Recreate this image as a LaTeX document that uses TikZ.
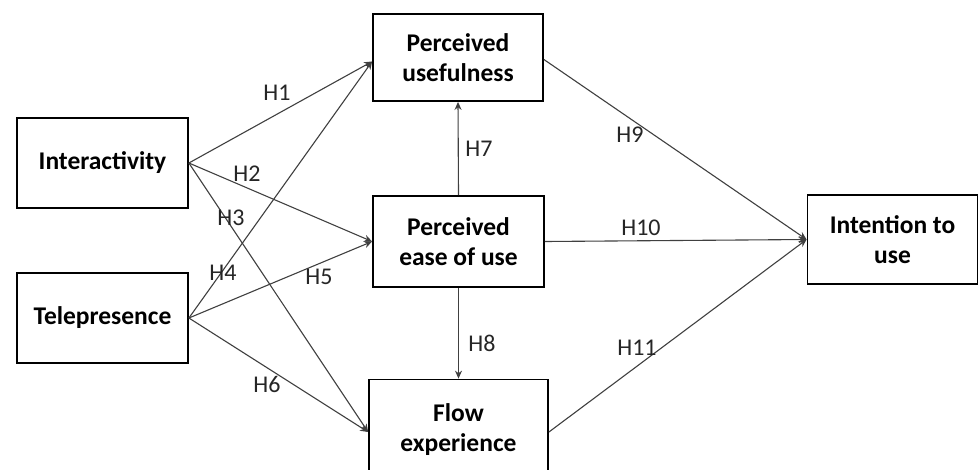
\documentclass[tikz,border=0pt]{standalone}
\usepackage{fontspec}
\setmainfont{Carlito}
\usetikzlibrary{arrows.meta}
\begin{document}
\begin{tikzpicture}[x=1pt,y=-1pt,
  box/.style={draw=black,line width=1.8pt,fill=white,align=center,inner sep=2pt,
    font=\fontsize{25.5}{30}\selectfont\bfseries},
  conn/.style={draw=black!75,line width=1.1pt,-{Stealth[length=8pt,width=7pt]}},
  hlab/.style={font=\fontsize{24}{28}\selectfont,text=black!85,inner sep=0pt}]
\useasboundingbox (0,0) rectangle (979,469);
\fill[white] (0,0) rectangle (979,469);
\node[box,minimum width=171pt,minimum height=90pt] (int) at (102.5,163) {Interactivity};
\node[box,minimum width=171pt,minimum height=90pt] (tel) at (102.5,318) {Telepresence};
\node[box,minimum width=170pt,minimum height=87pt] (pu) at (458,57.5) {Perceived\\usefulness};
\node[box,minimum width=171pt,minimum height=91pt] (peou) at (458.5,241.5) {Perceived\\ease of use};
\node[box,minimum width=179pt,minimum height=95pt] (flow) at (458.5,427) {\rule{0pt}{0pt}\\[-8pt]Flow\\experience};
\node[box,minimum width=170pt,minimum height=89pt] (iu) at (892.5,239.5) {Intention to\\use};

\draw[conn] (int.east) -- ([yshift=-4pt]pu.west);
\draw[conn] (int.east) -- (peou.west);
\draw[conn] (int.east) -- ([yshift=-5pt]flow.west);
\draw[conn] (tel.east) -- ([yshift=-4pt]pu.west);
\draw[conn] (tel.east) -- (peou.west);
\draw[conn] (tel.east) -- ([yshift=-5pt]flow.west);
\draw[conn] (peou.north) -- (pu.south);
\draw[conn] (peou.south) -- (flow.north);
\draw[conn] ([yshift=-2pt]pu.east) -- (iu.west);
\draw[conn] (peou.east) -- (iu.west);
\draw[conn] ([yshift=-5pt]flow.east) -- (iu.west);

\node[hlab] (h1) at (277,93) {H1};
\node[hlab] (h2) at (247,174) {H2};
\node[hlab] (h3) at (231,218) {H3};
\node[hlab] (h4) at (223,273) {H4};
\node[hlab] (h5) at (319,277) {H5};
\node[hlab] (h6) at (267,384) {H6};
\node[hlab] (h7) at (479,149) {H7};
\node[hlab] (h8) at (482,343) {H8};
\node[hlab] (h9) at (630,135) {H9};
\node[hlab] (h10) at (641,228) {H10};
\node[hlab] (h11) at (637,348) {H11};
\end{tikzpicture}
\end{document}
